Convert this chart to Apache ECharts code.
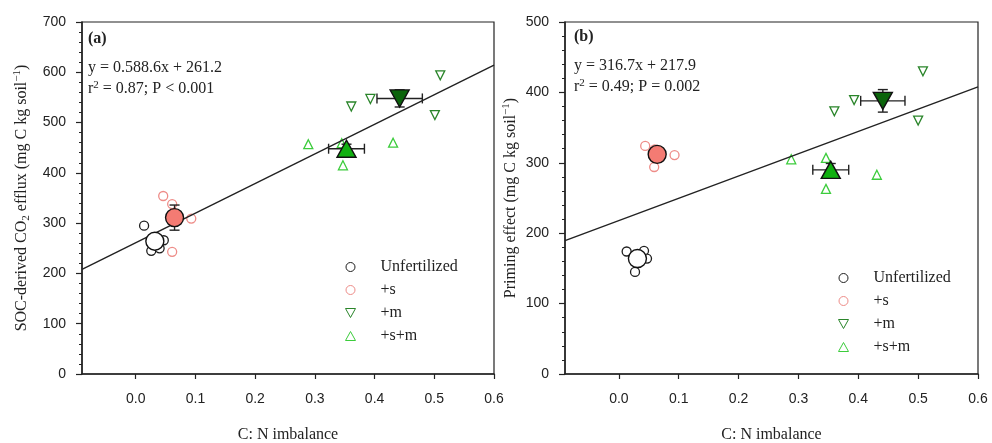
<!DOCTYPE html>
<html>
<head>
<meta charset="utf-8">
<script src="https://cdn.jsdelivr.net/npm/echarts@6/dist/echarts.min.js"></script>
<style>
  html, body { margin: 0; padding: 0; background: #fff; }
  #chart { width: 992px; height: 443px; }
</style>
</head>
<body>
<div id="chart"></div>
<script>
// ---- data ----
const xTicks = [0, 0.1, 0.2, 0.3, 0.4, 0.5, 0.6];
const groupNames = ['Unfertilized', '+s', '+m', '+s+m'];

// Panel (a): replicates [C:N imbalance, SOC-derived CO2 efflux]
const effluxUnfert = [[0.014, 295], [0.026, 245], [0.047, 266], [0.040, 250]];
const effluxS      = [[0.046, 354], [0.061, 338], [0.093, 309], [0.061, 243]];
const effluxM      = [[0.361, 532], [0.393, 547], [0.510, 594], [0.501, 515]];
const effluxSM     = [[0.289, 457], [0.347, 415], [0.431, 460], [0.345, 459]];
// Panel (a): treatment means [x, y, x error, y error]
const effluxMeanUnfert = [0.032, 264, 0.008, 9];
const effluxMeanS      = [0.065, 311, 0.006, 25];
const effluxMeanM      = [0.442, 548, 0.038, 17];
const effluxMeanSM     = [0.353, 448, 0.030, 9];
// Panel (a): fitted regression
const effluxSlope = 588.6;
const effluxIntercept = 261.2;

// Panel (b): replicates [C:N imbalance, priming effect]
const primingUnfert = [[0.013, 174], [0.027, 145], [0.042, 175], [0.047, 164]];
const primingS      = [[0.044, 324], [0.059, 294], [0.093, 311], [0.060, 319]];
const primingM      = [[0.360, 373], [0.393, 389], [0.508, 430], [0.500, 360]];
const primingSM     = [[0.288, 305], [0.346, 307], [0.346, 263], [0.431, 283]];
// Panel (b): treatment means [x, y, x error, y error]
const primingMeanUnfert = [0.031, 164, 0.007, 7];
const primingMeanS      = [0.064, 312, 0.007, 7];
const primingMeanM      = [0.441, 388, 0.037, 16];
const primingMeanSM     = [0.354, 290, 0.030, 9];
// Panel (b): fitted regression
const primingSlope = 316.7;
const primingIntercept = 217.9;

const xMin = -0.09;
const xMax = 0.6;

// ---- styling ----
const SERIF = '"Liberation Serif", "Times New Roman", serif';
const SANS = '"Liberation Sans", Arial, sans-serif';
const INK = '#222';
const DOWN_TRI = 'path://M0,0L10,0L5,9Z';
const UP_TRI = 'path://M5,0L10,9L0,9Z';

const groupStyle = [
  { symbol: 'circle', edge: '#1e1e1e', fill: '#ffffff' },
  { symbol: 'circle', edge: '#ee8c88', fill: '#f47b73' },
  { symbol: DOWN_TRI, edge: '#2a852a', fill: '#0b640b' },
  { symbol: UP_TRI,   edge: '#3ccc3c', fill: '#10b010' }
];

function renderErrorBar(params, api) {
  const x = api.value(0), y = api.value(1), ex = api.value(2), ey = api.value(3);
  const c = api.coord([x, y]);
  const l = api.coord([x - ex, y]);
  const r = api.coord([x + ex, y]);
  const t = api.coord([x, y + ey]);
  const b = api.coord([x, y - ey]);
  const cap = 5;
  const style = { stroke: INK, lineWidth: 1.4, fill: null };
  const seg = (x1, y1, x2, y2) => ({ type: 'line', shape: { x1, y1, x2, y2 }, style });
  return {
    type: 'group',
    children: [
      seg(l[0], c[1], r[0], c[1]),
      seg(l[0], c[1] - cap, l[0], c[1] + cap),
      seg(r[0], c[1] - cap, r[0], c[1] + cap),
      seg(c[0], t[1], c[0], b[1]),
      seg(c[0] - cap, t[1], c[0] + cap, t[1]),
      seg(c[0] - cap, b[1], c[0] + cap, b[1])
    ]
  };
}

function panelSeries(idx, reps, means, slope, intercept) {
  const out = [];
  reps.forEach((pts, g) => {
    const st = groupStyle[g];
    out.push({
      name: groupNames[g], type: 'scatter', xAxisIndex: idx, yAxisIndex: idx,
      data: pts, symbol: st.symbol, symbolSize: 9, z: 2,
      itemStyle: { color: '#ffffff', borderColor: st.edge, borderWidth: 1.3, opacity: 1 },
      emphasis: { disabled: true }, silent: true
    });
  });
  out.push({
    name: 'fit', type: 'line', xAxisIndex: idx, yAxisIndex: idx,
    data: [[xMin, slope * xMin + intercept], [xMax, slope * xMax + intercept]],
    showSymbol: false, symbol: 'none', z: 3, silent: true,
    lineStyle: { color: INK, width: 1.4 }
  });
  out.push({
    name: 'error', type: 'custom', xAxisIndex: idx, yAxisIndex: idx,
    data: means, renderItem: renderErrorBar, z: 4, silent: true,
    encode: { x: 0, y: 1 }
  });
  means.forEach((m, g) => {
    const st = groupStyle[g];
    out.push({
      name: groupNames[g] + ' mean', type: 'scatter', xAxisIndex: idx, yAxisIndex: idx,
      data: [[m[0], m[1]]], symbol: st.symbol, symbolSize: g >= 2 ? [19, 17] : 18, z: 5,
      itemStyle: { color: st.fill, borderColor: '#111', borderWidth: 1.4, opacity: 1 },
      emphasis: { disabled: true }, silent: true
    });
  });
  return out;
}

function xAxisFor(idx) {
  return {
    type: 'value', gridIndex: idx, min: xMin, max: xMax,
    name: 'C: N imbalance', nameLocation: 'middle', nameGap: 53,
    nameTextStyle: { fontFamily: SERIF, fontSize: 16, color: INK },
    axisLine: { onZero: false, lineStyle: { color: INK, width: 1.5 } },
    axisTick: { customValues: xTicks, length: 5, lineStyle: { color: INK, width: 1.2 } },
    axisLabel: {
      customValues: xTicks, margin: 18, fontFamily: SANS, fontSize: 14, color: INK,
      formatter: v => v.toFixed(1)
    },
    splitLine: { show: false }
  };
}

function yAxisFor(idx, max, nameText, gap) {
  return {
    type: 'value', gridIndex: idx, min: 0, max: max, interval: 100,
    name: nameText, nameLocation: 'middle', nameGap: gap,
    nameTextStyle: {
      fontFamily: SERIF, fontSize: 16, color: INK, lineHeight: 20,
      rich: {
        sub: { fontFamily: SERIF, fontSize: 11, color: INK, verticalAlign: 'bottom' },
        sup: { fontFamily: SERIF, fontSize: 11, color: INK, verticalAlign: 'top' }
      }
    },
    axisLine: { show: true, onZero: false, lineStyle: { color: INK, width: 1.5 } },
    axisTick: { length: 6, lineStyle: { color: INK, width: 1.2 } },
    minorTick: { show: true, splitNumber: 5, length: 3, lineStyle: { color: INK, width: 1 } },
    axisLabel: { margin: 16, fontFamily: SANS, fontSize: 14, color: INK },
    splitLine: { show: false }
  };
}

function legendFor(left, top) {
  return {
    data: groupNames, orient: 'vertical', left: left, top: top,
    itemWidth: 50, itemHeight: 9, itemGap: 7, padding: 0,
    selectedMode: false,
    itemStyle: { borderWidth: 1 },
    textStyle: { fontFamily: SERIF, fontSize: 16, color: INK, lineHeight: 16 }
  };
}

const richEq = {
  sup: { fontFamily: SERIF, fontSize: 11, fill: INK, verticalAlign: 'top' }
};

function eqText(left, top, label, line1, line2) {
  return [
    { type: 'text', left: left, top: top - 29,
      style: { text: label, font: 'bold 16px ' + SERIF, fill: INK } },
    { type: 'text', left: left, top: top,
      style: { text: line1, font: '16px ' + SERIF, fill: INK } },
    { type: 'text', left: left, top: top + 20,
      style: { text: line2, font: '16px ' + SERIF, fill: INK, lineHeight: 18, rich: richEq } }
  ];
}

const chart = echarts.init(document.getElementById('chart'), null, { renderer: 'canvas' });

const gridBase = {
  top: 22, bottom: 69, show: true, borderColor: INK, borderWidth: 1.2,
  backgroundColor: 'transparent', containLabel: false, outerBoundsMode: 'none'
};

chart.setOption({
  backgroundColor: '#ffffff',
  animation: false,
  grid: [
    Object.assign({ left: 82, right: 498 }, gridBase),
    Object.assign({ left: 565, right: 14 }, gridBase)
  ],
  xAxis: [xAxisFor(0), xAxisFor(1)],
  yAxis: [
    yAxisFor(0, 700, 'SOC-derived CO{sub|2} efflux (mg C kg soil{sup|−1})', 50),
    yAxisFor(1, 500, 'Priming effect (mg C kg soil{sup|−1})', 44)
  ],
  legend: [legendFor(345, 259), legendFor(838, 270)],
  graphic: [
    ...eqText(88, 60, '(a)', 'y = 0.588.6x + 261.2', 'r{sup|2} = 0.87; P < 0.001'),
    ...eqText(574, 58, '(b)', 'y = 316.7x + 217.9', 'r{sup|2} = 0.49; P = 0.002')
  ],
  series: [
    ...panelSeries(0,
      [effluxUnfert, effluxS, effluxM, effluxSM],
      [effluxMeanUnfert, effluxMeanS, effluxMeanM, effluxMeanSM],
      effluxSlope, effluxIntercept),
    ...panelSeries(1,
      [primingUnfert, primingS, primingM, primingSM],
      [primingMeanUnfert, primingMeanS, primingMeanM, primingMeanSM],
      primingSlope, primingIntercept)
  ]
});
</script>
</body>
</html>
